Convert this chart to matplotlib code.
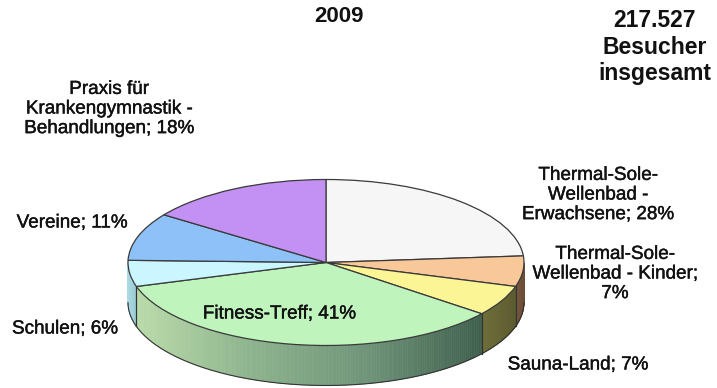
import numpy as np
import matplotlib
matplotlib.use('Agg')
import matplotlib.pyplot as plt
import matplotlib.colors as mcolors
import matplotlib.patheffects as pe

plt.rcParams['font.family'] = ['Liberation Sans', 'DejaVu Sans']

# Anteile wie im Bild beschriftet
werte = [28, 7, 7, 41, 6, 11, 18]
labels = ['Thermal-Sole-\nWellenbad -\nErwachsene; 28%',
          'Thermal-Sole-\nWellenbad - Kinder;\n7%',
          'Sauna-Land; 7%',
          'Fitness-Treff; 41%',
          'Schulen; 6%',
          'Vereine; 11%',
          'Praxis für\nKrankengymnastik -\nBehandlungen; 18%']
farben = ['#f6f6f6', '#f8c898', '#fbf595', '#bff4bd', '#c9f6ff', '#8dc1f7', '#c391f4']
label_pos = [(598, 195), (615, 274), (578, 365), (279, 314), (65, 329), (72, 223), (109, 109)]
seite = [['#9a9a9a', '#8a8a8a'], ['#7d5a42', '#6b4c36'], ['#6f6f3c', '#5c5c30'],
         ['#b9dba9', '#8db38d', '#6f9479', '#3f5f4c'], ['#aedbe4', '#9accd6'],
         ['#7aa0c8', '#7aa0c8'], ['#9a70c0', '#9a70c0']]

titel = '2009'
besucher = '217.527\nBesucher\ninsgesamt'

W, H = 717, 388
cx, cy = 326, 262.5
rx, ry = 198, 83
tiefe = 40

fig = plt.figure(figsize=(W / 100, H / 100), dpi=100)
ax = fig.add_axes([0, 0, 1, 1])

wedges, _ = ax.pie(werte, colors=farben, startangle=90, counterclock=False, radius=1,
                   wedgeprops={'edgecolor': '#3a3a3a', 'linewidth': 0.9, 'zorder': 5})

# pie setzt equal, hier flach gedrueckt
ax.set_aspect('auto')
ax.set_xlim(-cx / rx, (W - cx) / rx)
ax.set_ylim(-(H - cy) / ry, cy / ry)
d = tiefe / ry

# Seitenwand, nur vorderer Teil sichtbar
for w, stops in zip(wedges, seite):
    t = np.radians(np.linspace(w.theta1, w.theta2, 160))
    t = t[np.sin(t) < 0]
    if len(t) < 2:
        continue
    cmap = mcolors.LinearSegmentedColormap.from_list('s', stops)
    x = np.cos(t)
    lo, hi = x.min(), x.max()
    for i in range(len(t) - 1):
        xs = [x[i], x[i + 1], x[i + 1], x[i]]
        ys = [np.sin(t[i]), np.sin(t[i + 1]), np.sin(t[i + 1]) - d, np.sin(t[i]) - d]
        c = cmap((x[i] - lo) / (hi - lo))
        ax.fill(xs, ys, color=c, lw=0.4, zorder=2)
    ax.plot(x, np.sin(t) - d, color='#333333', lw=0.8, zorder=3)
    for k in (0, -1):
        if abs(x[k]) < 0.995:
            ax.plot([x[k], x[k]], [np.sin(t[k]), np.sin(t[k]) - d], color='#333333', lw=0.8, zorder=3)

stroke = [pe.withStroke(linewidth=0.3, foreground='#111111')]
for text, (px, py) in zip(labels, label_pos):
    fig.text(px / W, 1 - py / H, text, ha='center', va='center', fontsize=13.6, color='#111111',
             linespacing=1.2, zorder=10, path_effects=stroke)

fig.text(339 / W, 1 - 17 / H, titel, ha='center', va='center', fontsize=16, fontweight='bold', color='#111111')
fig.text(655 / W, 1 - 47 / H, besucher, ha='center', va='center', fontsize=16.5, fontweight='bold',
         color='#111111', linespacing=1.2)

fig.savefig('out.png', dpi=100)
